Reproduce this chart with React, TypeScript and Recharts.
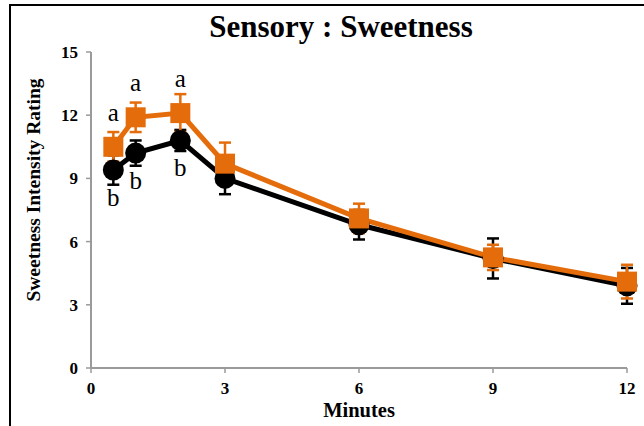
import { LineChart, Line, XAxis, YAxis, ErrorBar, LabelList } from 'recharts';

const minutes = [0.5, 1, 2, 3, 6, 9, 12];
const controlValues = [9.4, 10.2, 10.8, 9.0, 6.8, 5.2, 3.9];
const controlErr = [0.7, 0.6, 0.5, 0.75, 0.7, 0.95, 0.85];
const controlSig = ['b', 'b', 'b', '', '', '', ''];
const sampleValues = [10.5, 11.9, 12.1, 9.7, 7.1, 5.25, 4.1];
const sampleErr = [0.7, 0.7, 0.9, 1.0, 0.7, 0.6, 0.8];
const sampleSig = ['a', 'a', 'a', '', '', '', ''];
const xTicks = [0, 3, 6, 9, 12];
const yTicks = [0, 3, 6, 9, 12, 15];

const data = minutes.map((m, i) => ({
  minute: m,
  control: controlValues[i],
  controlErr: controlErr[i],
  controlSig: controlSig[i],
  sample: sampleValues[i],
  sampleErr: sampleErr[i],
  sampleSig: sampleSig[i],
}));

const FONT = '"Liberation Serif", "Times New Roman", serif';
const ORANGE = '#E46C0A';
const AXIS = '#9a9a9a';

const CircleDot = (props: any) => {
  const { cx, cy } = props;
  if (cx == null || cy == null) return null;
  return <circle cx={cx} cy={cy} r={10.5} fill="#000" />;
};

const SquareDot = (props: any) => {
  const { cx, cy } = props;
  if (cx == null || cy == null) return null;
  return <rect x={cx - 10} y={cy - 10} width={20} height={20} fill={ORANGE} />;
};

const tickStyle = { fontFamily: FONT, fontSize: 17, fontWeight: 'bold', fill: '#000' };

export default function App() {
  return (
    <div style={{ position: 'absolute', left: 0, top: 0, width: 644, height: 426, background: '#fff', overflow: 'hidden' }}>
      <div
        style={{
          position: 'absolute',
          left: 9,
          top: 4,
          width: 660,
          height: 440,
          borderTop: '2px solid #000',
          borderLeft: '2px solid #000',
        }}
      />
      <div
        style={{
          position: 'absolute',
          left: 0,
          top: 9,
          width: 682,
          textAlign: 'center',
          fontFamily: FONT,
          fontWeight: 'bold',
          fontSize: 31,
          lineHeight: '36px',
        }}
      >
        Sensory : Sweetness
      </div>
      <div style={{ position: 'absolute', left: 0, top: 0 }}>
        <LineChart width={644} height={426} data={data} margin={{ top: 52, right: 17, left: 41, bottom: 8 }}>
          <XAxis
            dataKey="minute"
            type="number"
            domain={[0, 12]}
            ticks={xTicks}
            height={50}
            tick={tickStyle}
            tickSize={5}
            tickMargin={9}
            axisLine={{ stroke: AXIS, strokeWidth: 2 }}
            tickLine={{ stroke: AXIS, strokeWidth: 1.5 }}
            label={{
              value: 'Minutes',
              position: 'insideBottom',
              offset: 1,
              style: { fontFamily: FONT, fontSize: 20.5, fontWeight: 'bold', fill: '#000' },
            }}
          />
          <YAxis
            type="number"
            domain={[0, 15]}
            ticks={yTicks}
            width={50}
            tick={tickStyle}
            tickSize={5}
            tickMargin={8}
            axisLine={{ stroke: AXIS, strokeWidth: 2 }}
            tickLine={{ stroke: AXIS, strokeWidth: 1.5 }}
            label={{
              value: 'Sweetness Intensity Rating',
              angle: -90,
              position: 'insideLeft',
              offset: 0,
              dx: -8,
              dy: -20,
              style: { fontFamily: FONT, fontSize: 19.5, fontWeight: 'bold', fill: '#000', textAnchor: 'middle' },
            }}
          />
          <Line
            dataKey="control"
            stroke="#000"
            strokeWidth={5}
            dot={<CircleDot />}
            activeDot={false}
            isAnimationActive={false}
          >
            <ErrorBar dataKey="controlErr" direction="y" width={6} stroke="#000" strokeWidth={2.5} />
            <LabelList
              dataKey="controlSig"
              position="bottom"
              offset={18}
              style={{ fontFamily: FONT, fontSize: 25, fill: '#000' }}
            />
          </Line>
          <Line
            dataKey="sample"
            stroke={ORANGE}
            strokeWidth={5}
            dot={<SquareDot />}
            activeDot={false}
            isAnimationActive={false}
          >
            <ErrorBar dataKey="sampleErr" direction="y" width={6} stroke={ORANGE} strokeWidth={2.5} />
            <LabelList
              dataKey="sampleSig"
              position="top"
              offset={26}
              style={{ fontFamily: FONT, fontSize: 25, fill: '#000' }}
            />
          </Line>
        </LineChart>
      </div>
    </div>
  );
}
